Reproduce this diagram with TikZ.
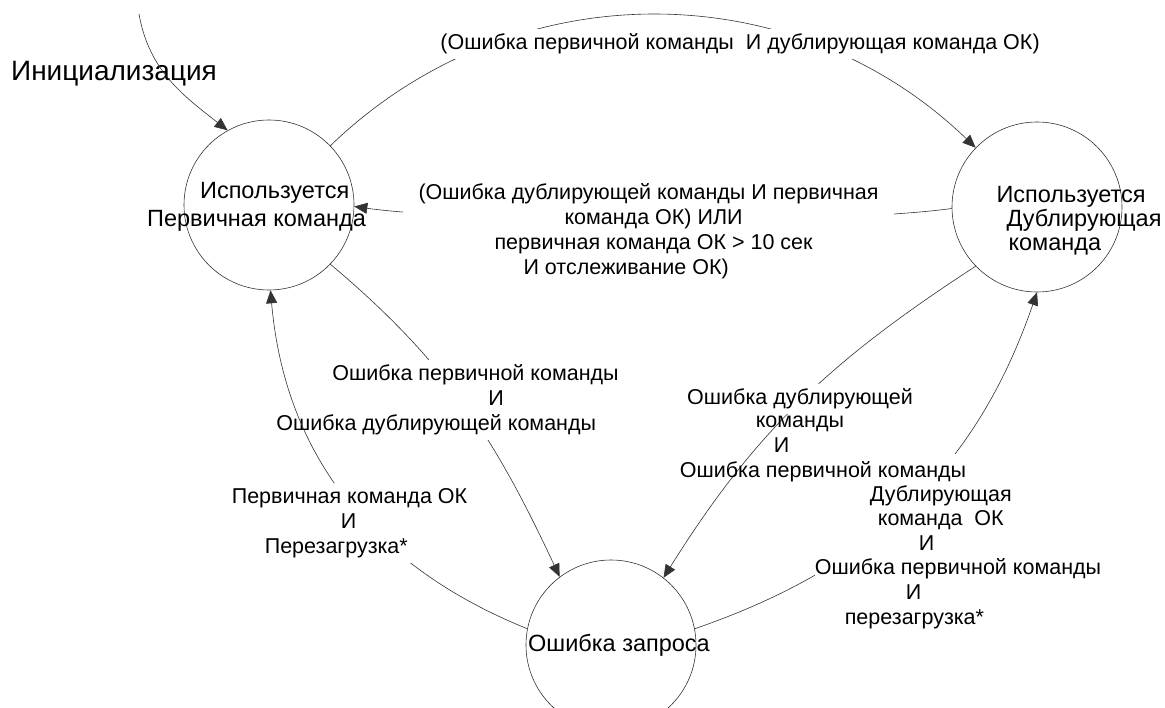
\documentclass[tikz,border=0pt]{standalone}
\usepackage{fontspec}
\setmainfont{Liberation Sans}
\usetikzlibrary{arrows.meta,positioning}

\tikzset{
  state/.style={draw=black!80, circle, minimum size=170pt, inner sep=0pt, line width=0.6pt},
  statetext/.style={font=\fontsize{23.5}{28}\selectfont, align=left, inner sep=0pt},
  cond/.style={font=\fontsize{21.5}{25}\selectfont, align=left, inner sep=0pt},
  condbox/.style={cond, fill=white, inner sep=5pt},
  conn/.style={draw=black!80, line width=0.6pt}
}

\begin{document}
\begin{tikzpicture}[x=1pt, y=1pt, >={Triangle[length=13pt,width=11pt]}]
  \useasboundingbox (0,0) rectangle (1165,-708);

  \node[state, label={[statetext, xshift=-12.5pt, yshift=-2pt]center:{\hspace*{53pt}Используется\\Первичная команда}}] (prim) at (269,-205) {};
  \node[state, label={[statetext, font=\fontsize{23.5}{24}\selectfont, xshift=42pt, yshift=-14pt]center:{Используется\\\hspace*{10pt}Дублирующая\\\hspace*{12pt}команда}}] (dup) at (1037,-207) {};
  \node[state, label={[statetext, xshift=8pt]center:{Ошибка запроса}}] (err) at (611,-645) {};

  \node[font=\fontsize{28}{32}\selectfont, inner sep=0pt] (initlbl) at (114,-74) {Инициализация};
  \coordinate (initstart) at (139,-14);

  \path[->] (initstart) edge[conn, out=-80, in=142] (prim.119)
            (prim.44) edge[conn, out=44, in=136] (dup.136)
            (dup.181) edge[conn, out=188, in=-8, looseness=0.5] (prim.-1)
            (prim.-44) edge[conn, out=-40, in=115] (err.127);

  \node[condbox] (primerr) at (740,-44) {(Ошибка первичной команды\ \ И дублирующая команда ОК)};
  \node[condbox, inner xsep=16pt] (primrec) at (648.5,-231) {(Ошибка дублирующей команды И первичная\\\hspace*{146pt}команда ОК) ИЛИ\\\hspace*{76pt}первичная команда ОК > 10 сек\\\hspace*{105pt}И отслеживание ОК)};
  \node[condbox] (botherr) at (447.5,-400) {\hspace*{56pt}Ошибка первичной команды\\\hspace*{212pt}И\\Ошибка дублирующей команды};

  \path[->] (err.169) edge[conn, out=158, in=-85] (prim.-89)
            (dup.-136) edge[conn, out=213, in=58] (err.52)
            (err.11) edge[conn, out=19, in=-109] (dup.-90);

  \node[condbox] (primok) at (349.5,-523) {Первичная команда ОК\\\hspace*{109pt}И\\\hspace*{33pt}Перезагрузка*};
  \node[condbox] (duperrA) at (800,-399) {Ошибка дублирующей};
  \node[cond, fill=white, minimum height=206pt, font=\fontsize{21.5}{24.6}\selectfont] (dupok) at (958,-557) {\hspace*{55pt}Дублирующая\\\hspace*{63pt}команда\ \ ОК\\\hspace*{104pt}И\\Ошибка первичной команды\\\hspace*{91pt}И\\\hspace*{30pt}перезагрузка*};
  \node[cond] (duperrB) at (823,-449) {\hspace*{76pt}команды\\\hspace*{94pt}И\\Ошибка первичной команды};
\end{tikzpicture}
\end{document}
